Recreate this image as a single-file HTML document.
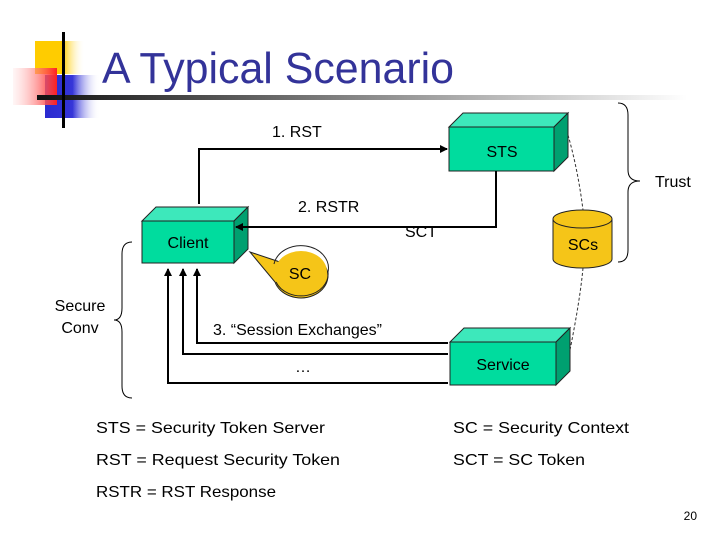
<!DOCTYPE html>
<html><head><meta charset="utf-8"><style>
html,body{margin:0;padding:0;background:#fff;}
svg{display:block;font-family:"Liberation Sans",sans-serif;}
</style></head><body>
<svg width="720" height="540" viewBox="0 0 720 540" xmlns="http://www.w3.org/2000/svg">
<defs>
<linearGradient id="yl" x1="0" x2="1"><stop offset="0" stop-color="#ffcc00"/><stop offset="0.55" stop-color="#ffcc00"/><stop offset="1" stop-color="#fff" stop-opacity="0"/></linearGradient>
<linearGradient id="rd" x1="1" x2="0"><stop offset="0" stop-color="#ff2020"/><stop offset="1" stop-color="#ffe0e0" stop-opacity="0.3"/></linearGradient>
<linearGradient id="bl" x1="0" x2="1"><stop offset="0" stop-color="#2a2ad0"/><stop offset="0.5" stop-color="#3535d8"/><stop offset="1" stop-color="#fff" stop-opacity="0"/></linearGradient>
<linearGradient id="hl" x1="0" x2="1"><stop offset="0" stop-color="#111"/><stop offset="0.5" stop-color="#888"/><stop offset="1" stop-color="#fff"/></linearGradient>
<marker id="ar" markerWidth="8" markerHeight="8" refX="7" refY="4" orient="auto" markerUnits="userSpaceOnUse"><path d="M0,0 L8,4 L0,8 z" fill="#000"/></marker>
</defs>
<!-- decoration -->
<rect x="35" y="41" width="50" height="33" fill="url(#yl)"/>
<rect x="45" y="75" width="55" height="43" fill="url(#bl)"/>
<rect x="13" y="68" width="44" height="37" fill="url(#rd)"/>
<rect x="37" y="95" width="650" height="5" fill="url(#hl)"/>
<rect x="62" y="32" width="3" height="96" fill="#000"/>
<text x="102" y="83" font-size="44" fill="#333399" textLength="352" lengthAdjust="spacingAndGlyphs">A Typical Scenario</text>

<!-- boxes -->
<g stroke="#222" stroke-width="1">
<polygon points="449,127 463,113 568,113 554,127" fill="#3de8bb"/>
<polygon points="554,127 568,113 568,157 554,171" fill="#00a070"/>
<rect x="449" y="127" width="105" height="44" fill="#00dc9e"/>
<polygon points="142,221 156,207 248,207 234,221" fill="#3de8bb"/>
<polygon points="234,221 248,207 248,249 234,263" fill="#00a070"/>
<rect x="142" y="221" width="92" height="42" fill="#00dc9e"/>
<polygon points="450,342 464,328 570,328 556,342" fill="#3de8bb"/>
<polygon points="556,342 570,328 570,371 556,385" fill="#00a070"/>
<rect x="450" y="342" width="106" height="43" fill="#00dc9e"/>
<!-- cylinder -->
<path d="M553,219 L553,259 A29.5,9 0 0 0 612,259 L612,219" fill="#f5c518"/>
<ellipse cx="582.5" cy="219" rx="29.5" ry="9" fill="#f5c518"/>
<!-- bubble -->
<path d="M250,252 L280,262 A27,22 0 1 1 275,282 Z" fill="#f5c518"/>
</g>
<ellipse cx="301" cy="272" rx="26" ry="21" fill="#f5c518"/>
<path d="M274,264 A27,22 0 0 1 328,272 A27,22 0 0 1 276,282" fill="none" stroke="#222"/>

<!-- dashed -->
<path d="M568,135 Q578,170 583,210" fill="none" stroke="#333" stroke-dasharray="3,2"/>
<path d="M583,268 Q580,300 570,350" fill="none" stroke="#333" stroke-dasharray="3,2"/>

<!-- connectors -->
<g stroke="#000" stroke-width="2" fill="none">
<polyline points="199,204 199,149 447,149" marker-end="url(#ar)"/>
<polyline points="496,171 496,227 236,227" marker-end="url(#ar)"/>
<polyline points="448,343 197,343 197,269" marker-end="url(#ar)"/>
<polyline points="448,354 183,354 183,269" marker-end="url(#ar)"/>
<polyline points="448,383 168,383 168,269" marker-end="url(#ar)"/>
</g>

<!-- braces -->
<path d="M618,103 Q628,103 628,115 L628,170 Q628,181 640,181 Q628,181 628,192 L628,250 Q628,262 618,262" fill="none" stroke="#000"/>
<path d="M132,242 Q122,242 122,254 L122,308 Q122,320 114,320 Q122,320 122,332 L122,386 Q122,398 132,398" fill="none" stroke="#000"/>

<!-- labels -->
<g font-size="16" fill="#000">
<text x="272" y="137">1. RST</text>
<text x="298" y="212">2. RSTR</text>
<text x="405" y="237">SCT</text>
<text x="188" y="248" text-anchor="middle">Client</text>
<text x="502" y="157" text-anchor="middle">STS</text>
<text x="583" y="250" text-anchor="middle">SCs</text>
<text x="300" y="279" text-anchor="middle">SC</text>
<text x="503" y="370" text-anchor="middle">Service</text>
<text x="213" y="335">3. “Session Exchanges”</text>
<text x="303" y="372" text-anchor="middle">…</text>
<text x="655" y="187">Trust</text>
<text x="80" y="311" text-anchor="middle">Secure</text>
<text x="80" y="333" text-anchor="middle">Conv</text>
<text x="96" y="433" textLength="229" lengthAdjust="spacingAndGlyphs">STS = Security Token Server</text>
<text x="96" y="465" textLength="244" lengthAdjust="spacingAndGlyphs">RST = Request Security Token</text>
<text x="96" y="497" textLength="180" lengthAdjust="spacingAndGlyphs">RSTR = RST Response</text>
<text x="453" y="433" textLength="176" lengthAdjust="spacingAndGlyphs">SC = Security Context</text>
<text x="453" y="465" textLength="132" lengthAdjust="spacingAndGlyphs">SCT = SC Token</text>
<text x="697" y="520" font-size="12" text-anchor="end">20</text>
</g>
</svg>
</body></html>
